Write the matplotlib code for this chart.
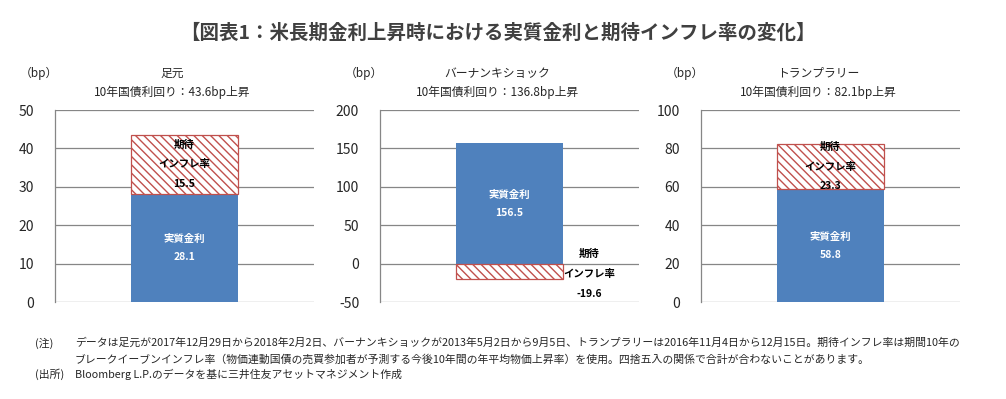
import matplotlib
matplotlib.use("Agg")
import matplotlib.pyplot as plt

plt.rcParams['font.family'] = ['Noto Sans CJK JP', 'DejaVu Sans']
plt.rcParams['hatch.linewidth'] = 1.0
plt.rcParams['hatch.color'] = '#C0504D'

# ---- data ----
panel_names = ["足元", "バーナンキショック", "トランプラリー"]
yield_rise = [43.6, 136.8, 82.1]
real_rate = [28.1, 156.5, 58.8]
infl_rate = [15.5, -19.6, 23.3]
y_limits = [(0, 50), (-50, 200), (0, 100)]
y_steps = [10, 50, 20]

title = "【図表1：米長期金利上昇時における実質金利と期待インフレ率の変化】"
note1 = ("データは足元が2017年12月29日から2018年2月2日、バーナンキショックが2013年5月2日から9月5日、"
         "トランプラリーは2016年11月4日から12月15日。期待インフレ率は期間10年の")
note2 = "ブレークイーブンインフレ率（物価連動国債の売買参加者が予測する今後10年間の年平均物価上昇率）を使用。四捨五入の関係で合計が合わないことがあります。"
note3 = "Bloomberg L.P.のデータを基に三井住友アセットマネジメント作成"

BLUE = '#4F81BD'
RED = '#C0504D'
GRID = '#868686'
TXT = '#262626'

W, H = 1006, 399
fig = plt.figure(figsize=(W / 100, H / 100), dpi=100)

lefts = [55, 380, 701]
ax_w = 259
top, bottom = 110, 302

for i in range(3):
    ax = fig.add_axes([lefts[i] / W, 1 - bottom / H, ax_w / W, (bottom - top) / H])
    lo, hi = y_limits[i]
    ax.set_xlim(-1, 1)
    ax.set_ylim(lo, hi)
    ticks = list(range(lo, hi + 1, y_steps[i]))
    ax.set_yticks(ticks)
    ax.set_yticklabels([str(t) for t in ticks], fontsize=10, color=TXT)
    ax.set_xticks([])
    ax.tick_params(axis='y', length=0, pad=15)
    for t in ticks:
        ax.axhline(t, color=GRID, lw=0.9, zorder=0)
    for s in ['top', 'right', 'bottom']:
        ax.spines[s].set_visible(False)
    ax.spines['left'].set_color(GRID)
    ax.spines['left'].set_linewidth(0.9)

    bw = 0.82
    ax.bar(0, real_rate[i], width=bw, color=BLUE, zorder=2)
    base = real_rate[i] if infl_rate[i] > 0 else 0
    ax.bar(0, infl_rate[i], width=bw, bottom=base, facecolor='white',
           edgecolor=RED, hatch='\\\\\\\\', linewidth=0.9, zorder=2)

    ax.text(0, real_rate[i] / 2, f"実質金利\n{real_rate[i]}", ha='center', va='center',
            color='white', fontsize=7.5, fontweight='bold', linespacing=2.0, zorder=3)
    infl_label = f"期待\nインフレ率\n{infl_rate[i]}"
    if infl_rate[i] > 0:
        ax.text(0, base + infl_rate[i] / 2, infl_label, ha='center', va='center',
                color='black', fontsize=7.5, fontweight='bold', linespacing=2.2, zorder=3)
    else:
        ax.annotate(infl_label, xy=(bw / 2, infl_rate[i] / 2), xytext=(19, -2),
                    textcoords='offset points', ha='center', va='center',
                    color='black', fontsize=7.5, fontweight='bold', linespacing=2.2, zorder=3)

    cx = (lefts[i] + ax_w / 2 - 12) / W
    fig.text((lefts[i] - 16) / W, 1 - 73 / H, "（bp）", ha='center', va='center',
             fontsize=8.5, color=TXT)
    fig.text(cx, 1 - 73 / H, panel_names[i], ha='center', va='center', fontsize=8.5, color=TXT)
    fig.text(cx, 1 - 92 / H, f"10年国債利回り：{yield_rise[i]}bp上昇", ha='center', va='center',
             fontsize=8.5, color=TXT)

fig.text(498 / W, 1 - 33 / H, title, ha='center', va='center', fontsize=14,
         fontweight='bold', color='#404040')

fs = 7.8
fig.text(35 / W, 1 - 343 / H, "(注)", ha='left', va='center', fontsize=fs, color=TXT)
fig.text(75 / W, 1 - 343 / H, note1, ha='left', va='center', fontsize=fs, color=TXT)
fig.text(75 / W, 1 - 359 / H, note2, ha='left', va='center', fontsize=fs, color=TXT)
fig.text(35 / W, 1 - 374 / H, "(出所)", ha='left', va='center', fontsize=fs, color=TXT)
fig.text(75 / W, 1 - 374 / H, note3, ha='left', va='center', fontsize=fs, color=TXT)

fig.savefig("out.png", dpi=100, facecolor='white')
